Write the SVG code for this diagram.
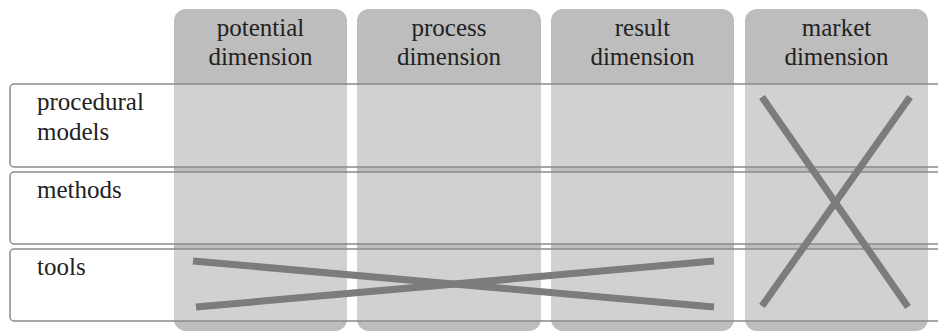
<svg xmlns="http://www.w3.org/2000/svg" width="938" height="332" viewBox="0 0 938 332">
<style>
.col{fill:#bdbdbd;}
.row{fill:#ffffff;fill-opacity:0.3;stroke:#8a8a8a;stroke-width:1.5;}
.cross{stroke:#7c7c7c;stroke-width:7;fill:none;}
.t{font-family:'Liberation Serif','Times New Roman',Times,'DejaVu Serif',serif;font-size:25px;fill:#222222;}
.h{text-anchor:middle;}
</style>
<rect width="938" height="332" fill="#ffffff"/>
<g id="col-potential"><rect class="col" x="174" y="9" width="173" height="322" rx="12"/>
<text class="t h" x="260.5" y="36">potential</text><text class="t h" x="260.5" y="65">dimension</text></g>
<g id="col-process"><rect class="col" x="357" y="9" width="184" height="322" rx="12"/>
<text class="t h" x="449" y="36">process</text><text class="t h" x="449" y="65">dimension</text></g>
<g id="col-result"><rect class="col" x="551" y="9" width="183" height="322" rx="12"/>
<text class="t h" x="642.5" y="36">result</text><text class="t h" x="642.5" y="65">dimension</text></g>
<g id="col-market"><rect class="col" x="745" y="9" width="183" height="322" rx="12"/>
<text class="t h" x="836.5" y="36">market</text><text class="t h" x="836.5" y="65">dimension</text></g>
<g id="row-procedural"><rect class="row" x="10" y="84" width="940" height="83" rx="4"/>
<text class="t" x="37" y="110">procedural</text><text class="t" x="37" y="140">models</text></g>
<g id="row-methods"><rect class="row" x="10" y="172" width="940" height="72" rx="4"/>
<text class="t" x="37" y="198">methods</text></g>
<g id="row-tools"><rect class="row" x="10" y="249" width="940" height="72" rx="4"/>
<text class="t" x="37" y="275">tools</text></g>
<g id="connectors">
<line class="cross" x1="193" y1="261" x2="714" y2="307"/>
<line class="cross" x1="196" y1="307" x2="714" y2="261"/>
<line class="cross" x1="762" y1="97" x2="908" y2="307"/>
<line class="cross" x1="910" y1="97" x2="762" y2="306"/>
</g>
</svg>
